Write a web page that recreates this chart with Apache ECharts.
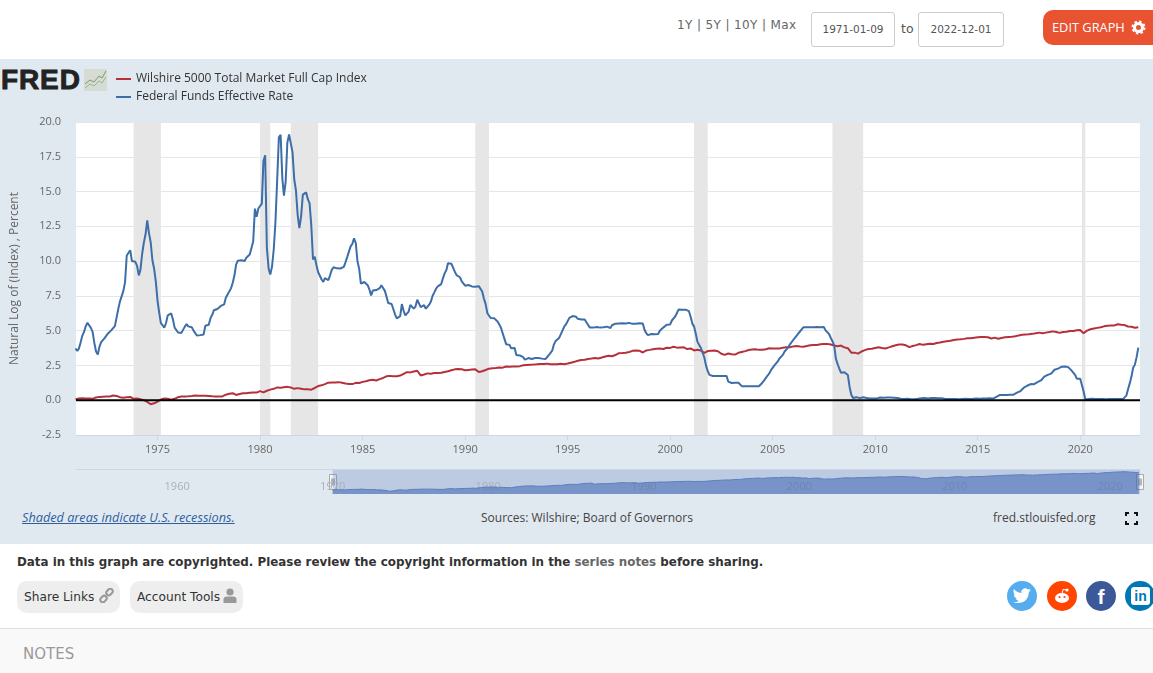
<!DOCTYPE html>
<html><head><meta charset="utf-8">
<script src="https://cdn.jsdelivr.net/npm/echarts@6/dist/echarts.min.js"></script>
<style>
html,body{margin:0;padding:0;width:1153px;height:673px;overflow:hidden;background:#fff;font-family:"DejaVu Sans",sans-serif}
.a{position:absolute;white-space:nowrap}
#band{left:0;top:59px;width:1153px;height:485px;background:#e1e9f0}
#chart{left:0;top:0;width:1153px;height:673px}
.inp{border:1px solid #ccc;border-radius:3px;width:82px;height:33px;line-height:33px;text-align:center;font-size:10.5px;color:#555;background:#fff;top:12px}
.pill{background:#eee;border-radius:10px;height:32px;line-height:32px;top:581px;font-size:12.2px;color:#333;box-sizing:border-box;padding-left:7px}
.os{font-family:"Open Sans",sans-serif}
.soc{width:30px;height:30px;border-radius:50%;top:581px;color:#fff;text-align:center;line-height:30px;font-weight:bold}
</style></head><body>
<div class="a" id="band"></div>
<div class="a" style="left:677px;top:18px;font-size:12px;color:#666;letter-spacing:.38px">1Y | 5Y | 10Y | Max</div>
<div class="a inp" style="left:811px">1971-01-09</div>
<div class="a" style="left:901px;top:21px;font-size:12.5px;color:#555">to</div>
<div class="a inp" style="left:918px;width:84px">2022-12-01</div>
<div class="a os" style="left:1043px;top:10px;width:110px;height:35px;background:#e95332;border-radius:10px 0 0 10px;color:#fff;font-size:12.8px;line-height:35px;padding-left:9px;box-sizing:border-box">EDIT GRAPH</div>
<svg class="a" style="left:1131px;top:20px" width="15" height="15" viewBox="0 0 15 15"><circle cx="7.5" cy="7.5" r="4" fill="none" stroke="#fff" stroke-width="3"/><circle cx="7.5" cy="7.5" r="6" fill="none" stroke="#fff" stroke-width="2" stroke-dasharray="2.4 2.3"/></svg>

<div class="a" style="left:1px;top:64px;font:bold 28px 'Liberation Sans',sans-serif;color:#222;-webkit-text-stroke:.9px #222;letter-spacing:.9px">FRED</div>
<svg class="a" style="left:84px;top:69px" width="23" height="22" viewBox="0 0 23 22"><rect width="23" height="22" fill="#d6dcd4"/><polyline points="1,15 6,11 10,13 15,7 18,9 22,2" fill="none" stroke="#7b9a6a" stroke-width="1"/><polyline points="1,19 6,15 10,17 15,12 18,14 22,8" fill="none" stroke="#9db58c" stroke-width="1"/></svg>

<div class="a os" style="left:22px;top:508px;font-size:12.7px;font-style:italic;color:#2f5f9e;text-decoration:underline">Shaded areas indicate U.S. recessions.</div>
<div class="a os" style="left:481px;top:509px;font-size:12px;color:#444">Sources: Wilshire; Board of Governors</div>
<div class="a os" style="left:993px;top:509px;font-size:12px;color:#444">fred.stlouisfed.org</div>
<svg class="a" style="left:1125px;top:512px" width="13" height="13" viewBox="0 0 13 13"><path d="M1 4V1H4M9 1H12V4M12 9V12H9M4 12H1V9" fill="none" stroke="#111" stroke-width="2"/></svg>

<div class="a" style="left:17px;top:555px;font-size:11.88px;font-weight:bold;color:#333">Data in this graph are copyrighted. Please review the copyright information in the <span style="color:#666">series notes</span> before sharing.</div>
<div class="a pill" style="left:17px;width:103px">Share Links</div>
<svg class="a" style="left:99px;top:588px" width="15" height="15" viewBox="0 0 15 15"><g fill="none" stroke="#999" stroke-width="2"><rect x="7" y="1.5" width="7" height="5" rx="2.5" transform="rotate(-45 10.5 4)"/><rect x="1" y="8.5" width="7" height="5" rx="2.5" transform="rotate(-45 4.5 11)"/></g></svg>
<div class="a pill" style="left:130px;width:113px">Account Tools</div>
<svg class="a" style="left:223px;top:588px" width="14" height="15" viewBox="0 0 14 15"><circle cx="7" cy="4" r="3.6" fill="#999"/><path d="M0.5 15V11.5Q0.5 8.5 4 8.5H10Q13.5 8.5 13.5 11.5V15Z" fill="#999"/></svg>

<div class="a soc" style="left:1007px;background:#55acee"></div>
<svg class="a" style="left:1012px;top:587px" width="20" height="18" viewBox="0 0 20 18"><path d="M1 15Q6 17 11 15T17 5L19 3L17 3.4L18.5 1.4L16 2.4Q13 0 10.5 2.5T10 6Q5 6 2 2Q0.5 5 3 8L1.5 7.5Q2 10.5 5 11.5L3.5 11.6Q4.5 13.5 7 14Q4.5 15.3 1 15Z" fill="#fff"/></svg>
<div class="a soc" style="left:1047px;background:#ff4500"></div>
<svg class="a" style="left:1052px;top:586px" width="20" height="20" viewBox="0 0 20 20"><ellipse cx="10" cy="12" rx="7" ry="5" fill="#fff"/><circle cx="15" cy="4" r="1.6" fill="#fff"/><path d="M10 8L11 3.5L15 4" fill="none" stroke="#fff"/><circle cx="7.5" cy="11" r="1.1" fill="#ff4500"/><circle cx="12.5" cy="11" r="1.1" fill="#ff4500"/></svg>
<div class="a soc" style="left:1086px;background:#3b5998;font:bold 21px/31px 'Liberation Sans',sans-serif">f</div>
<div class="a soc" style="left:1125px;background:#0077b5"></div>
<div class="a" style="left:1131px;top:587px;width:19px;height:18px;background:#fff;border-radius:3px;color:#0077b5;font:bold 14px/18px 'Liberation Sans',sans-serif;text-align:center">in</div>

<div class="a" style="left:0;top:628px;width:1153px;height:45px;background:#f9f9f9;border-top:1px solid #ddd;box-sizing:border-box"></div>
<div class="a" style="left:23px;top:645px;font-size:15px;color:#999">NOTES</div>

<div class="a" id="chart"></div>
<script>
var firstYear = 1971;
var seriesNames = ['Wilshire 5000 Total Market Full Cap Index', 'Federal Funds Effective Rate'];
var mainTickYears = [1975,1980,1985,1990,1995,2000,2005,2010,2015,2020];
var navTickYears = [1960,1970,1980,1990,2000,2010,2020];
var recessions = [['1973-11-01','1975-03-01'],['1980-01-01','1980-07-01'],['1981-07-01','1982-11-01'],['1990-07-01','1991-03-01'],['2001-03-01','2001-11-01'],['2007-12-01','2009-06-01'],['2020-02-01','2020-04-01']];
// monthly, from January 1971
var fedFunds = [
3.72,3.54,3.71,4.15,4.63,4.91,5.31,5.57,5.55,5.20,4.91,4.14,
3.50,3.29,3.83,4.17,4.27,4.46,4.55,4.80,4.87,5.04,5.06,5.33,
5.94,6.58,7.09,7.12,7.84,8.49,10.40,10.50,10.78,10.01,10.03,9.95,
9.65,8.97,9.35,10.51,11.31,11.93,12.92,12.01,11.34,10.06,9.45,8.53,
7.13,6.24,5.54,5.49,5.22,5.55,6.10,6.14,6.24,5.82,5.22,5.20,
4.87,4.77,4.84,4.82,5.29,5.48,5.31,5.29,5.25,5.02,4.95,4.65,
4.61,4.68,4.69,4.73,5.35,5.39,5.42,5.90,6.14,6.47,6.51,6.56,
6.70,6.78,6.79,6.89,7.36,7.60,7.81,8.04,8.45,8.96,9.76,10.03,
10.07,10.06,10.09,10.01,10.24,10.29,10.47,10.94,11.43,13.77,13.18,13.78,
13.82,14.13,17.19,17.61,10.98,9.47,9.03,9.61,10.87,12.81,15.85,18.90,
19.08,15.93,14.70,15.72,18.52,19.10,19.04,17.82,15.87,15.08,13.31,12.37,
13.22,14.78,14.68,14.94,14.45,14.15,12.59,10.12,10.31,9.71,9.20,8.95,
8.68,8.51,8.77,8.80,8.63,8.98,9.37,9.56,9.45,9.48,9.34,9.47,
9.56,9.59,9.91,10.29,10.32,11.06,11.23,11.64,11.30,9.99,9.43,8.38,
8.35,8.50,8.58,8.27,7.97,7.53,7.88,7.90,7.92,7.99,8.05,8.27,
8.14,7.86,7.48,6.99,6.85,6.92,6.56,6.17,5.89,5.85,6.04,6.91,
6.43,6.10,6.13,6.37,6.85,6.73,6.58,6.73,7.22,7.29,6.69,6.77,
6.83,6.58,6.58,6.87,7.09,7.51,7.75,8.01,8.19,8.30,8.35,8.76,
9.12,9.36,9.85,9.84,9.81,9.53,9.24,8.99,9.02,8.84,8.55,8.45,
8.23,8.24,8.28,8.26,8.18,8.29,8.15,8.13,8.20,8.11,7.81,7.31,
6.91,6.25,6.12,5.91,5.78,5.90,5.82,5.66,5.45,5.21,4.81,4.43,
4.03,4.06,3.98,3.73,3.82,3.76,3.25,3.30,3.22,3.10,3.09,2.92,
3.02,3.03,3.07,2.96,3.00,3.04,3.06,3.03,3.09,2.99,3.02,2.96,
3.05,3.25,3.34,3.56,4.01,4.25,4.26,4.47,4.73,4.76,5.29,5.45,
5.53,5.92,5.98,6.05,6.01,6.00,5.85,5.74,5.80,5.76,5.80,5.60,
5.56,5.22,5.31,5.22,5.24,5.27,5.40,5.22,5.30,5.24,5.31,5.29,
5.25,5.19,5.39,5.51,5.50,5.56,5.52,5.54,5.54,5.50,5.52,5.50,
5.56,5.51,5.49,5.45,5.49,5.56,5.54,5.55,5.51,5.07,4.83,4.68,
4.63,4.76,4.81,4.74,4.74,4.76,4.99,5.07,5.22,5.20,5.42,5.30,
5.45,5.73,5.85,6.02,6.27,6.53,6.54,6.50,6.52,6.51,6.51,6.40,
5.98,5.49,5.31,4.80,4.21,3.97,3.77,3.65,3.07,2.49,2.09,1.82,
1.73,1.74,1.73,1.75,1.75,1.75,1.73,1.74,1.75,1.75,1.34,1.24,
1.24,1.26,1.25,1.26,1.26,1.22,1.01,1.03,1.01,1.01,1.00,0.98,
1.00,1.01,1.00,1.00,1.00,1.03,1.26,1.43,1.61,1.76,1.93,2.16,
2.28,2.50,2.63,2.79,3.00,3.04,3.26,3.50,3.62,3.78,4.00,4.16,
4.29,4.49,4.59,4.79,4.94,4.99,5.24,5.25,5.25,5.25,5.25,5.24,
5.25,5.26,5.26,5.25,5.25,5.25,5.26,5.02,4.94,4.76,4.49,4.24,
3.94,2.98,2.61,2.28,1.98,2.00,2.01,2.00,1.81,0.97,0.39,0.16,
0.15,0.22,0.18,0.15,0.18,0.21,0.16,0.16,0.15,0.12,0.12,0.12,
0.11,0.13,0.16,0.20,0.20,0.18,0.18,0.19,0.19,0.19,0.19,0.18,
0.17,0.16,0.14,0.10,0.09,0.09,0.07,0.10,0.08,0.07,0.08,0.07,
0.08,0.10,0.13,0.14,0.16,0.16,0.16,0.13,0.14,0.16,0.16,0.16,
0.14,0.15,0.14,0.15,0.11,0.09,0.09,0.08,0.08,0.09,0.08,0.09,
0.07,0.07,0.08,0.09,0.09,0.10,0.09,0.09,0.09,0.09,0.09,0.12,
0.11,0.11,0.11,0.12,0.12,0.13,0.13,0.14,0.14,0.12,0.12,0.24,
0.34,0.38,0.36,0.37,0.37,0.38,0.39,0.40,0.40,0.40,0.41,0.54,
0.65,0.66,0.79,0.90,0.91,1.04,1.15,1.16,1.15,1.15,1.16,1.30,
1.41,1.42,1.51,1.69,1.70,1.82,1.91,1.91,1.95,2.19,2.20,2.27,
2.40,2.40,2.41,2.42,2.39,2.38,2.40,2.13,2.04,1.83,1.55,1.55,
1.55,1.58,0.65,0.05,0.05,0.08,0.09,0.10,0.09,0.09,0.09,0.09,
0.09,0.08,0.07,0.07,0.06,0.08,0.10,0.09,0.08,0.08,0.08,0.08,
0.08,0.08,0.20,0.33,0.77,1.21,1.68,2.33,2.56,3.08,3.78];
// every second month (Jan, Mar, May, Jul, Sep, Nov), from January 1971
var wilshire = [
.07,.12,.15,.13,.12,.10,
.20,.24,.25,.26,.27,.34,
.30,.22,.18,.22,.24,.10,
.13,.07,.00,-.12,-.29,-.22,
-.10,.05,.12,.10,.03,.10,
.22,.26,.27,.28,.30,.34,
.33,.32,.32,.31,.28,.27,
.26,.27,.40,.46,.50,.38,
.45,.50,.50,.53,.56,.55,
.65,.56,.68,.76,.82,.92,
.90,.94,.96,.92,.82,.87,
.83,.78,.78,.76,.88,1.02,
1.07,1.16,1.26,1.28,1.28,1.30,
1.25,1.20,1.17,1.16,1.25,1.24,
1.32,1.37,1.43,1.47,1.42,1.52,
1.60,1.72,1.75,1.73,1.73,1.77,
1.90,2.02,2.00,2.07,2.12,1.78,
1.85,1.93,1.90,1.95,1.95,1.97,
2.03,2.08,2.15,2.22,2.24,2.22,
2.16,2.18,2.20,2.22,2.03,2.08,
2.17,2.27,2.30,2.32,2.35,2.34,
2.42,2.41,2.43,2.43,2.45,2.51,
2.53,2.55,2.56,2.58,2.61,2.61,
2.63,2.58,2.58,2.59,2.62,2.58,
2.64,2.70,2.76,2.84,2.89,2.91,
2.97,3.00,3.04,3.00,3.07,3.14,
3.20,3.16,3.25,3.38,3.40,3.42,
3.47,3.55,3.58,3.56,3.43,3.58,
3.62,3.66,3.70,3.72,3.68,3.77,
3.76,3.84,3.78,3.79,3.80,3.68,
3.72,3.58,3.63,3.57,3.40,3.53,
3.56,3.57,3.52,3.34,3.26,3.36,
3.31,3.28,3.41,3.47,3.53,3.61,
3.65,3.66,3.62,3.63,3.66,3.74,
3.72,3.72,3.72,3.78,3.80,3.81,
3.87,3.89,3.86,3.85,3.90,3.95,
3.97,3.97,4.03,4.04,4.05,4.00,
3.93,3.88,3.93,3.80,3.74,3.42,
3.42,3.35,3.50,3.60,3.68,3.70,
3.76,3.81,3.75,3.72,3.80,3.88,
3.95,4.00,4.00,3.95,3.82,3.90,
3.96,4.04,3.98,4.02,4.06,4.04,
4.11,4.15,4.20,4.24,4.27,4.33,
4.36,4.38,4.41,4.45,4.46,4.49,
4.52,4.54,4.55,4.53,4.44,4.50,
4.42,4.47,4.52,4.55,4.57,4.60,
4.66,4.70,4.72,4.74,4.77,4.82,
4.86,4.82,4.86,4.90,4.95,4.90,
4.84,4.90,4.92,4.97,4.97,5.03,
5.05,4.82,5.00,5.10,5.16,5.20,
5.24,5.31,5.36,5.38,5.38,5.46,
5.42,5.40,5.30,5.28,5.21,5.25];

function d(y,m){return +new Date(y,m,1);}
var fedData = fedFunds.map(function(v,i){return [d(firstYear,i),v];});
var wilData = wilshire.map(function(v,i){return [d(firstYear,i*2),v];});
var xMin = +new Date(1971,0,9), xMax = d(2022,11);
var navMin = d(1954,6);
var yearTicks = function(a){return a.map(function(y){return d(y,0);});};
var yearFmt = function(v){return String(new Date(v).getFullYear());};
var FONT = '"Open Sans",sans-serif';
var chart = echarts.init(document.getElementById('chart'), null, {renderer:'canvas'});
var option = {
  animation:false,
  backgroundColor:'transparent',
  textStyle:{fontFamily:FONT},
  legend:{left:116,top:71,orient:'vertical',itemGap:2,itemWidth:15,itemHeight:2,padding:[0,0,0,0],
    icon:'rect',
    data:[{name:seriesNames[0]},{name:seriesNames[1]}],
    textStyle:{fontFamily:FONT,fontSize:12,color:'#333',lineHeight:16}},
  grid:[
    {left:76,right:13,top:122,height:313,show:true,backgroundColor:'#fff',borderWidth:0},
    {left:76,right:13,top:469.5,height:24.5,show:false}
  ],
  xAxis:[
    {type:'value',gridIndex:0,min:xMin,max:xMax,splitLine:{show:false},
     axisLine:{onZero:false,lineStyle:{color:'#ccd6eb',width:1}},
     axisTick:{show:true,length:5,lineStyle:{color:'#ccd6eb'},customValues:yearTicks(mainTickYears)},
     axisLabel:{customValues:yearTicks(mainTickYears),formatter:yearFmt,color:'#666',fontSize:11,fontFamily:FONT,margin:9,hideOverlap:false,showMinLabel:true,showMaxLabel:true}},
    {type:'value',gridIndex:1,position:'top',min:navMin,max:xMax,z:1,splitLine:{show:false},
     axisLine:{onZero:false,lineStyle:{color:'#ccd6eb',width:1}},
     axisTick:{show:false},
     axisLabel:{inside:true,customValues:yearTicks(navTickYears),formatter:yearFmt,color:'#a9b0b8',fontSize:11,fontFamily:FONT,margin:12,align:'left',padding:[0,0,0,3],hideOverlap:false}}
  ],
  yAxis:[
    {type:'value',gridIndex:0,min:-2.5,max:20,interval:2.5,
     name:'Natural Log of (Index) , Percent',nameLocation:'middle',nameGap:55,
     nameTextStyle:{color:'#666',fontSize:12,fontFamily:FONT},
     axisLine:{show:false},axisTick:{show:false},
     splitLine:{lineStyle:{color:'#e6e6e6',width:1}},
     axisLabel:{formatter:function(v){return v.toFixed(1);},color:'#666',fontSize:11,fontFamily:FONT,margin:15}},
    {type:'value',gridIndex:1,min:-1.1,max:6.1,show:false}
  ],
  series:[
    {name:'recessions',type:'line',xAxisIndex:0,yAxisIndex:0,data:[],z:1,silent:true,
     markArea:{silent:true,itemStyle:{color:'#e6e6e6'},
       data:recessions.map(function(r){return [{xAxis:+new Date(r[0]+'T00:00:00')},{xAxis:+new Date(r[1]+'T00:00:00')}];})}},
    {name:seriesNames[0],type:'line',xAxisIndex:0,yAxisIndex:0,data:wilData,showSymbol:false,z:3,
     lineStyle:{color:'#b5303a',width:2},itemStyle:{color:'#b5303a'}},
    {name:seriesNames[1],type:'line',xAxisIndex:0,yAxisIndex:0,data:fedData,showSymbol:false,z:4,
     lineStyle:{color:'#3d6ea8',width:2},itemStyle:{color:'#3d6ea8'}},
    {name:'zero',type:'line',xAxisIndex:0,yAxisIndex:0,data:[[xMin,0],[xMax,0]],showSymbol:false,z:5,silent:true,
     lineStyle:{color:'#000',width:2}},
    {name:'navigator',type:'line',xAxisIndex:1,yAxisIndex:1,data:wilData,showSymbol:false,z:3,silent:true,
     lineStyle:{color:'#5a7dbd',width:1},areaStyle:{color:'#335cad',opacity:0.5,origin:'start'},
     markArea:{silent:true,itemStyle:{color:'rgba(102,133,194,0.3)'},
       data:[[{xAxis:wilData[0][0]},{xAxis:xMax}]]}}
  ]
};
chart.setOption(option);
function handle(x,y){
  return {type:'group',x:Math.round(x),y:y,children:[
    {type:'rect',shape:{x:-3.5,y:-7.5,width:7,height:15},style:{fill:'#f7f7f7',stroke:'#aaa',lineWidth:1}},
    {type:'line',shape:{x1:-1,y1:-3.5,x2:-1,y2:3.5},style:{stroke:'#777',lineWidth:1}},
    {type:'line',shape:{x1:1,y1:-3.5,x2:1,y2:3.5},style:{stroke:'#777',lineWidth:1}}
  ]};
}
var pL = chart.convertToPixel({xAxisIndex:1},wilData[0][0]);
var pR = chart.convertToPixel({xAxisIndex:1},xMax);
chart.setOption({graphic:[handle(pL,482),handle(pR,482)]});
</script>
</body></html>
